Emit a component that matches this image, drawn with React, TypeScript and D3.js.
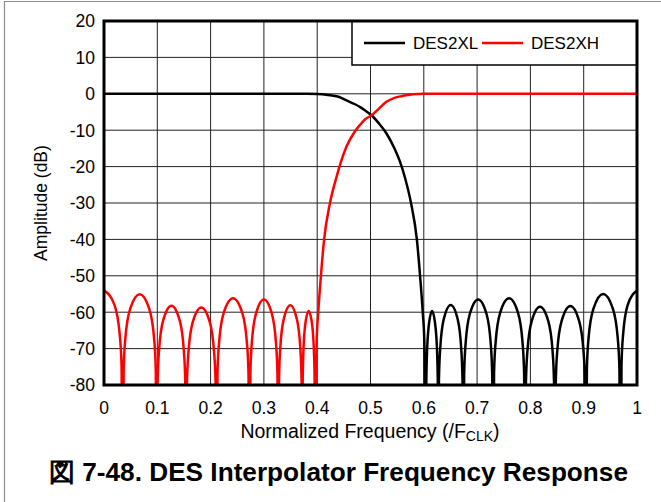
import React from "react";
import * as d3 from "d3";

// ---- data ----
const xTicks = [0, 0.1, 0.2, 0.3, 0.4, 0.5, 0.6, 0.7, 0.8, 0.9, 1];
const xTickLabels = ["0", "0.1", "0.2", "0.3", "0.4", "0.5", "0.6", "0.7", "0.8", "0.9", "1"];
const yTicks = [20, 10, 0, -10, -20, -30, -40, -50, -60, -70, -80];
const seriesNames = ["DES2XL", "DES2XH"];
const seriesColors = ["#000000", "#ff0000"];

// [normalized frequency, amplitude dB]
const desXL: [number, number][] = [
  [0, 0], [0.1, 0], [0.2, 0], [0.3, 0], [0.38, 0], [0.4, -0.05], [0.42, -0.3], [0.44, -0.8], [0.455, -1.8],
  [0.47, -2.8], [0.48, -3.6], [0.49, -4.6], [0.502, -5.9], [0.515, -8], [0.53, -10.9], [0.545, -15],
  [0.555, -18.5], [0.565, -23.2], [0.576, -30], [0.587, -40], [0.593, -50], [0.598, -60], [0.601, -68], [0.604, -130],
  [0.6047, -80], [0.6058, -72], [0.6091, -64], [0.6155, -59.7], [0.6219, -64], [0.6252, -72], [0.6263, -80], [0.627, -130],
  [0.6284, -78.5], [0.6308, -70], [0.6373, -62], [0.6505, -58], [0.6637, -62], [0.6702, -70], [0.6726, -78.5], [0.674, -130],
  [0.6757, -77], [0.6785, -68.5], [0.6863, -60.5], [0.702, -56.5], [0.7177, -60.5], [0.7255, -68.5], [0.7283, -77], [0.73, -130],
  [0.7318, -76.7], [0.7348, -68.2], [0.7432, -60.2], [0.76, -56.2], [0.7768, -60.2], [0.7852, -68.2], [0.7882, -76.7], [0.79, -130],
  [0.7917, -79], [0.7945, -70.5], [0.8023, -62.5], [0.818, -58.5], [0.8337, -62.5], [0.8415, -70.5], [0.8443, -79], [0.846, -130],
  [0.8477, -78.8], [0.8506, -70.3], [0.8588, -62.3], [0.875, -58.3], [0.8912, -62.3], [0.8994, -70.3], [0.9023, -78.8], [0.904, -130],
  [0.906, -75.5], [0.9092, -67], [0.9183, -59], [0.9365, -55], [0.9547, -59], [0.9638, -67], [0.967, -75.5], [0.969, -130],
  [0.9709, -74.5], [0.974, -66], [0.9826, -58], [1.0, -54],
];

const desXH: [number, number][] = [
  [0, -54], [0.0196, -58], [0.0294, -66], [0.0329, -74.5], [0.035, -130],
  [0.0369, -75.6], [0.0401, -67.1], [0.0491, -59.1], [0.067, -55.1], [0.0849, -59.1], [0.0939, -67.1], [0.0971, -75.6], [0.099, -130],
  [0.1007, -78.7], [0.1034, -70.2], [0.1111, -62.2], [0.1265, -58.2], [0.1419, -62.2], [0.1496, -70.2], [0.1524, -78.7], [0.154, -130],
  [0.1557, -79.2], [0.1586, -70.7], [0.1665, -62.7], [0.1825, -58.7], [0.1985, -62.7], [0.2064, -70.7], [0.2093, -79.2], [0.211, -130],
  [0.2129, -76.7], [0.216, -68.2], [0.2246, -60.2], [0.242, -56.2], [0.2594, -60.2], [0.268, -68.2], [0.2711, -76.7], [0.273, -130],
  [0.2746, -77], [0.2773, -68.5], [0.2849, -60.5], [0.3, -56.5], [0.3151, -60.5], [0.3227, -68.5], [0.3254, -77], [0.327, -130],
  [0.3284, -78.6], [0.3306, -70.1], [0.3369, -62.1], [0.3495, -58.1], [0.3621, -62.1], [0.3684, -70.1], [0.3707, -78.6], [0.372, -130],
  [0.3727, -80.2], [0.3739, -71.7], [0.3773, -63.7], [0.384, -59.7], [0.3907, -63.7], [0.3941, -71.7], [0.3953, -80.2], [0.396, -130],
  [0.399, -68], [0.402, -60], [0.407, -50], [0.413, -40], [0.424, -30], [0.435, -23.5], [0.445, -18.5], [0.455, -14.5],
  [0.47, -10.5], [0.48, -8.6], [0.49, -7], [0.502, -5.9], [0.515, -4.2], [0.53, -2.2], [0.545, -1.1], [0.56, -0.6],
  [0.58, -0.1], [0.6, 0], [0.7, 0], [0.8, 0], [0.9, 0], [1, 0],
];

const FONT = "'Liberation Sans', Arial, Helvetica, sans-serif";

export default function App() {
  const W = 661, H = 502;
  const L = 104, R = 637, T = 21, B = 385;
  const x = d3.scaleLinear().domain([0, 1]).range([L, R]);
  const y = d3.scaleLinear().domain([-80, 20]).range([B, T]);
  const line = d3
    .line<[number, number]>()
    .x((d) => x(d[0]))
    .y((d) => y(d[1]))
    .curve(d3.curveMonotoneX);
  const series = [desXL, desXH];

  const legX = 352, legY = T, legW = R - 352, legH = 44;

  return (
    <svg
      width={W}
      height={H}
      style={{ position: "absolute", left: 0, top: 0, background: "#fff" }}
      fontFamily={FONT}
    >
      <defs>
        <clipPath id="plotClip">
          <rect x={L} y={T} width={R - L} height={B - T} />
        </clipPath>
      </defs>
      {/* figure frame */}
      <line x1={4.5} y1={1} x2={4.5} y2={H} stroke="#8c8c8c" strokeWidth={1.2} />
      <line x1={4} y1={1.5} x2={W} y2={1.5} stroke="#8c8c8c" strokeWidth={1.2} />

      {/* grid */}
      {xTicks.map((t) => (
        <line key={"gx" + t} x1={x(t)} x2={x(t)} y1={T} y2={B} stroke="#222" strokeWidth={1} />
      ))}
      {yTicks.map((t) => (
        <line key={"gy" + t} x1={L} x2={R} y1={y(t)} y2={y(t)} stroke="#222" strokeWidth={1} />
      ))}

      {/* curves */}
      <g clipPath="url(#plotClip)">
        {series.map((s, i) => (
          <path key={i} d={line(s) || ""} fill="none" stroke={seriesColors[i]} strokeWidth={2.5} strokeLinejoin="round" />
        ))}
      </g>

      {/* legend */}
      <rect x={legX} y={legY} width={legW} height={legH} fill="#fff" stroke="#000" strokeWidth={1.5} />
      {seriesNames.map((n, i) => {
        const x0 = legX + 12 + i * 118;
        return (
          <g key={n}>
            <line x1={x0} x2={x0 + 41} y1={legY + 22} y2={legY + 22} stroke={seriesColors[i]} strokeWidth={2.5} />
            <text x={x0 + 49} y={legY + 28} fontSize={17} fill="#000">
              {n}
            </text>
          </g>
        );
      })}

      {/* plot border */}
      <rect x={L} y={T} width={R - L} height={B - T} fill="none" stroke="#000" strokeWidth={3} />

      {/* y tick labels */}
      {yTicks.map((t) => (
        <text key={"yl" + t} x={95} y={y(t)} dy="0.36em" textAnchor="end" fontSize={17.5} fill="#000">
          {String(t)}
        </text>
      ))}
      {/* x tick labels */}
      {xTicks.map((t, i) => (
        <text key={"xl" + t} x={x(t)} y={414} textAnchor="middle" fontSize={17.5} fill="#000">
          {xTickLabels[i]}
        </text>
      ))}

      {/* axis titles */}
      <text x={370} y={438} textAnchor="middle" fontSize={19.5} fill="#000">
        Normalized Frequency (/F
        <tspan fontSize={14} dy={3}>CLK</tspan>
        <tspan dy={-3}>)</tspan>
      </text>
      <text transform={`translate(47, ${(T + B) / 2}) rotate(-90)`} textAnchor="middle" fontSize={17.5} fill="#000">
        Amplitude (dB)
      </text>

      {/* caption */}
      <text x={338.5} y={481} textAnchor="middle" fontSize={26.2} fontWeight="bold" fill="#000">
        図 7-48. DES Interpolator Frequency Response
      </text>
    </svg>
  );
}
